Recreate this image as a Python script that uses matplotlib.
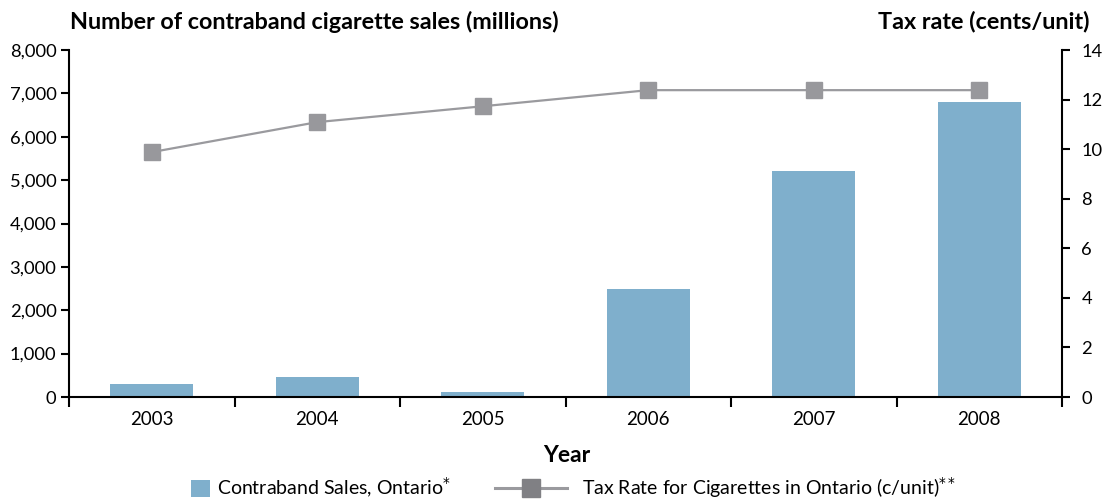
import matplotlib
matplotlib.use("Agg")
import matplotlib.pyplot as plt
from matplotlib.lines import Line2D
from matplotlib.patches import Patch
import numpy as np

years = ["2003", "2004", "2005", "2006", "2007", "2008"]
contraband_sales = [290, 460, 115, 2490, 5210, 6800]
tax_rate = [9.88, 11.09, 11.73, 12.38, 12.38, 12.38]
left_ticks = [0, 1000, 2000, 3000, 4000, 5000, 6000, 7000, 8000]
right_ticks = [0, 2, 4, 6, 8, 10, 12, 14]

plt.rcParams['font.family'] = ['Lato', 'DejaVu Sans']

fig = plt.figure(figsize=(11.07, 5.0), dpi=100)
ax = fig.add_axes([69/1107, 1-397/500, (1062-69)/1107, (397-50)/500])
ax2 = ax.twinx()

x = np.arange(len(years))
bar_color = "#7fafcc"
line_color = "#9a9a9e"

ax.bar(x, contraband_sales, width=0.5, color=bar_color, zorder=2)
ax2.plot(x, tax_rate, color=line_color, lw=1.6, marker='s', markersize=11.5,
         markerfacecolor="#98989c", markeredgecolor="#98989c", zorder=3)

ax.set_xlim(-0.5, len(years) - 0.5)
ax.set_ylim(0, 8000)
ax2.set_ylim(0, 14)

ax.set_yticks(left_ticks)
ax.set_yticklabels([f"{v:,}" for v in left_ticks])
ax2.set_yticks(right_ticks)
ax2.set_yticklabels([str(v) for v in right_ticks])

ax.set_xticks(np.arange(-0.5, len(years), 1.0))
ax.set_xticklabels([])
ax.set_xticks(x, minor=True)
ax.set_xticklabels(years, minor=True)
ax.tick_params(axis='x', which='major', length=7, width=1.5, direction='out', color='black')
ax.tick_params(axis='x', which='minor', length=0, pad=10, labelsize=13.5)
ax.tick_params(axis='y', length=6, width=1.5, direction='out', labelsize=13.2, pad=3)
ax2.tick_params(axis='y', length=6, width=1.5, direction='out', labelsize=13.2, pad=8)

for a in (ax, ax2):
    a.spines['top'].set_visible(False)
    for s in ('left', 'right', 'bottom'):
        a.spines[s].set_linewidth(1.5)
ax.spines['right'].set_visible(False)
ax2.spines['left'].set_visible(False)
ax2.spines['bottom'].set_visible(False)

fig.text(70/1107, 1-22/500, "Number of contraband cigarette sales (millions)",
         fontsize=16.8, fontweight='bold', ha='left', va='center')
fig.text(1090/1107, 1-22/500, "Tax rate (cents/unit)",
         fontsize=16.8, fontweight='bold', ha='right', va='center')
fig.text(567/1107, 1-455/500, "Year", fontsize=16.5, fontweight='bold', ha='center', va='center')

h1 = [Patch(facecolor=bar_color, edgecolor='none')]
h2 = [Line2D([0], [0], color=line_color, lw=2.2, marker='s', markersize=13,
             markerfacecolor="#808084", markeredgecolor="#808084")]
leg1 = fig.legend(h1, ["Contraband Sales, Ontario$^{*}$"], loc='center left',
                  bbox_to_anchor=(173/1107, 1-488/500), frameon=False, fontsize=14,
                  handlelength=1.0, handleheight=1.0, handletextpad=0.35)
leg2 = fig.legend(h2, ["Tax Rate for Cigarettes in Ontario (c/unit)$^{**}$"], loc='center left',
                  bbox_to_anchor=(477/1107, 1-488/500), frameon=False, fontsize=14,
                  handlelength=3.75, handletextpad=0.75)

fig.savefig("out.png", dpi=100)
